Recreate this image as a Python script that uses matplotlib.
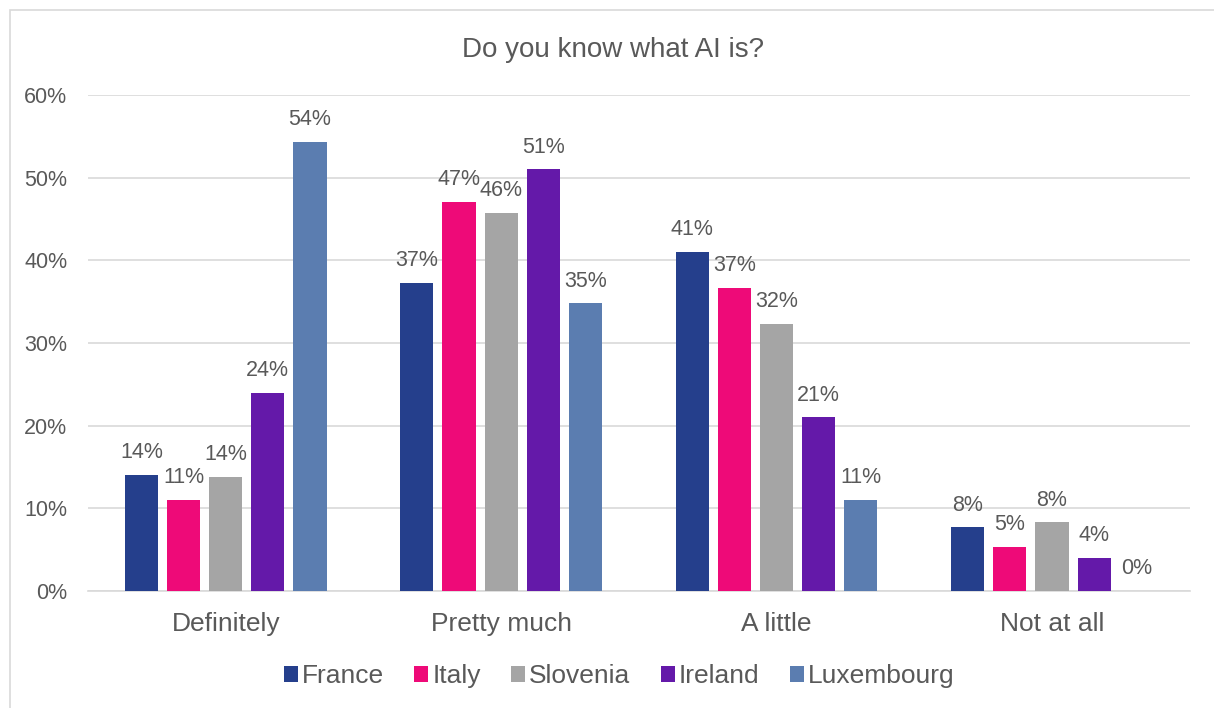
import matplotlib.pyplot as plt
import numpy as np
from matplotlib.patches import Rectangle

plt.rcParams['font.family'] = ['Liberation Sans', 'DejaVu Sans']

# Data
categories = ["Definitely", "Pretty much", "A little", "Not at all"]
countries = ["France", "Italy", "Slovenia", "Ireland", "Luxembourg"]
france = [14.0, 37.3, 41.0, 7.7]
italy = [11.0, 47.1, 36.7, 5.3]
slovenia = [13.8, 45.7, 32.3, 8.3]
ireland = [24.0, 51.0, 21.0, 4.0]
luxembourg = [54.3, 34.8, 11.0, 0.0]
series = [france, italy, slovenia, ireland, luxembourg]
colors = ["#253F8C", "#EE0A78", "#A5A5A5", "#6419A9", "#5B7DB0"]

text_col = "#595959"
grid_col = "#D9D9D9"

fig = plt.figure(figsize=(12.14, 7.08), dpi=100)
ax = fig.add_axes([0.0725, 0.1653, 0.9075, 0.7005])

# border around chart area
fig.patches.append(Rectangle((10 / 1214, -0.05), 1.2, 1.05 - 10 / 708,
                             transform=fig.transFigure, fill=False,
                             edgecolor=grid_col, linewidth=1.2))

x = np.arange(len(categories))
pitch = 0.153
width = 0.12
for i, (vals, name, c) in enumerate(zip(series, countries, colors)):
    pos = x + (i - 2) * pitch
    bars = ax.bar(pos, vals, width, color=c, label=name, zorder=3)
    for b, v in zip(bars, vals):
        ax.annotate(f"{v:.0f}%", (b.get_x() + b.get_width() / 2, v),
                    xytext=(0, 8.5), textcoords="offset points",
                    ha="center", va="bottom", fontsize=15.5, color=text_col)

ax.set_xlim(-0.5, 3.5)
ax.set_ylim(0, 60)
ax.set_yticks(np.arange(0, 61, 10))
ax.set_yticklabels([f"{t}%" for t in range(0, 61, 10)])
ax.set_xticks(x)
ax.set_xticklabels(categories)
ax.tick_params(axis="y", length=0, pad=15, labelsize=15.5, labelcolor=text_col)
ax.tick_params(axis="x", length=0, pad=15, labelsize=19, labelcolor=text_col)
ax.grid(axis="y", color=grid_col, linewidth=1.2, zorder=0)
for s in ["top", "right", "left"]:
    ax.spines[s].set_visible(False)
ax.spines["bottom"].set_color(grid_col)
ax.spines["bottom"].set_linewidth(1.2)

fig.text(0.505, 0.929, "Do you know what AI is?", ha="center", va="center",
         fontsize=20, color=text_col)

fig.legend(loc="center", bbox_to_anchor=(0.51, 0.045), ncol=5, frameon=False,
           fontsize=19, labelcolor=text_col, handlelength=0.53, handleheight=0.53,
           handletextpad=0.15, columnspacing=1.15)

fig.savefig("out.png", dpi=100)
